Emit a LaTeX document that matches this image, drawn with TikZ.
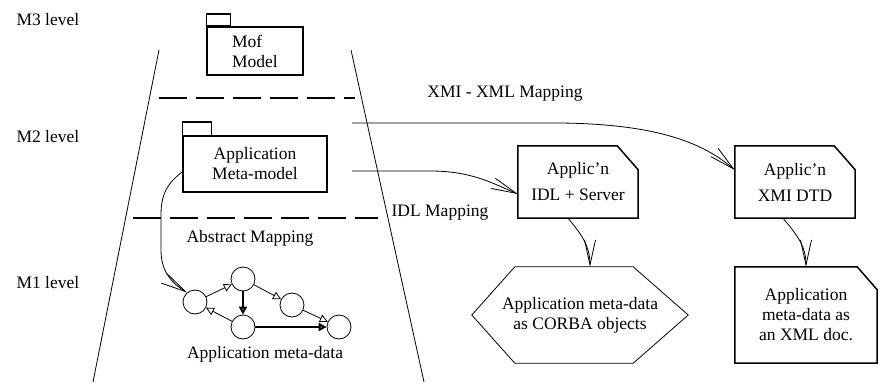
\documentclass[tikz,border=0pt]{standalone}
\usepackage{fontspec}
\setmainfont{Liberation Serif}
\usetikzlibrary{arrows.meta}

\tikzset{
  pkg/.style={draw, line width=1.5pt, inner sep=0pt},
  docbox/.style={inner sep=0pt, align=center},
  boxline/.style={line width=1.5pt, line join=miter},
  obj/.style={draw, circle, minimum size=24pt, inner sep=0pt, line width=0.8pt},
  stick/.style={-{Straight Barb[length=25pt,width=11pt]}, line width=0.8pt},
  edge/.style={-{Triangle[open,length=8pt,width=8pt]}, line width=0.8pt},
  heavy/.style={-{Triangle[open,length=8pt,width=8pt]}, line width=2pt},
  levelsep/.style={dash pattern=on 28pt off 9pt, line width=1.8pt}
}

\begin{document}
\begin{tikzpicture}[x=1pt, y=-1pt, font=\fontsize{17.5}{20}\selectfont]
	\useasboundingbox (0,0) rectangle (880,385);

	% levels
	\node[anchor=west] (m3) at (13,20) {M3 level};
	\node[anchor=west] (m2) at (13,137) {M2 level};
	\node[anchor=west] (m1) at (13,283) {M1 level};

	\draw[line width=0.8pt] (159,50) -- (93,382);
	\draw[line width=0.8pt] (351,50) -- (424,382);
	\draw[levelsep] (159,98) -- (355,98);
	\draw[levelsep] (133,218) -- (378,218);

	% packages
	\node[pkg, minimum width=96pt, minimum height=48pt, align=left] (mof) at (255,51) {Mof\\Model};
	\draw[line width=1.5pt] (mof.north west) rectangle ++(24,-12);
	\node[pkg, minimum width=144pt, minimum height=56pt, align=center] (app) at (255,164) {Application\\Meta-model};
	\draw[line width=1.5pt] (app.north west) rectangle ++(29,-13);

	% generated documents
	\node[docbox, minimum width=120pt, minimum height=72pt] (idl) at (578,182) {Applic'n\\[6pt]IDL + Server};
	\draw[boxline] (idl.south west) -- (idl.north west) -- ([xshift=-21pt]idl.north east)
		-- ([yshift=-24pt]idl.north east) -- (idl.south east) -- cycle;
	\node[docbox, minimum width=120pt, minimum height=72pt] (xmi) at (795,182) {Applic'n\\[6pt]XMI DTD};
	\draw[boxline] (xmi.south west) -- (xmi.north west) -- ([xshift=-21pt]xmi.north east)
		-- ([yshift=-24pt]xmi.north east) -- (xmi.south east) -- cycle;
	\node[docbox, minimum width=142pt, minimum height=96pt] (doc) at (806,315) {Application\\meta-data as\\an XML doc.};
	\draw[boxline] (doc.south west) -- (doc.north west) -- ([xshift=-20pt]doc.north east)
		-- ([yshift=-23pt]doc.north east) -- (doc.south east) -- cycle;
	\node[docbox, minimum width=216pt, minimum height=96pt] (corba) at (580,315)
		{Application meta-data\\as CORBA objects};
	\draw[line width=0.8pt] (corba.west) -- ([xshift=43pt]corba.north west) -- ([xshift=-55pt]corba.north east)
		-- (corba.east) -- ([xshift=-55pt]corba.south east) -- ([xshift=43pt]corba.south west) -- cycle;

	% mappings
	\coordinate (xmistart) at (352,123);
	\coordinate (idlstart) at (352,171);
	\node (xmilabel) at (505,94) {XMI - XML Mapping};
	\node (idllabel) at (440,213) {IDL Mapping};
	\node (abslabel) at (250,238) {Abstract Mapping};

	\draw[stick] (xmistart) -- (560,123) .. controls (650,124) and (700,140) .. ([yshift=12pt]xmi.west);
	\draw[stick] (idlstart) -- (430,171) .. controls (470,171) and (490,182) .. ([yshift=-12pt]idl.west);
	\draw[stick] ([xshift=-10pt]idl.south) to[out=-50,in=90] ([xshift=10pt]corba.north);
	\draw[stick] ([xshift=-12pt]xmi.south) to[out=-50,in=90] (doc.north);

	% meta-data graph
	\node[obj] (n1) at (195,302) {};
	\node[obj] (n2) at (243,279) {};
	\node[obj] (n3) at (292,305) {};
	\node[obj] (n4) at (243,327) {};
	\node[obj] (n5) at (339,327) {};
	\draw[edge] (n1) -- (n2);
	\draw[edge] (n2) -- (n3);
	\draw[edge] (n3) -- (n5);
	\draw[edge] (n4) -- (n1);
	\draw[heavy] (n2) -- (n4);
	\draw[heavy] (n4) -- (n5);
	\node (graphlabel) at (265,354) {Application meta-data};

	\draw[stick] ([yshift=-8pt]app.west) .. controls (166,184) and (161,196) .. (161,215)
		-- (161,250) .. controls (161,270) and (170,282) .. (n1.130);
\end{tikzpicture}
\end{document}
